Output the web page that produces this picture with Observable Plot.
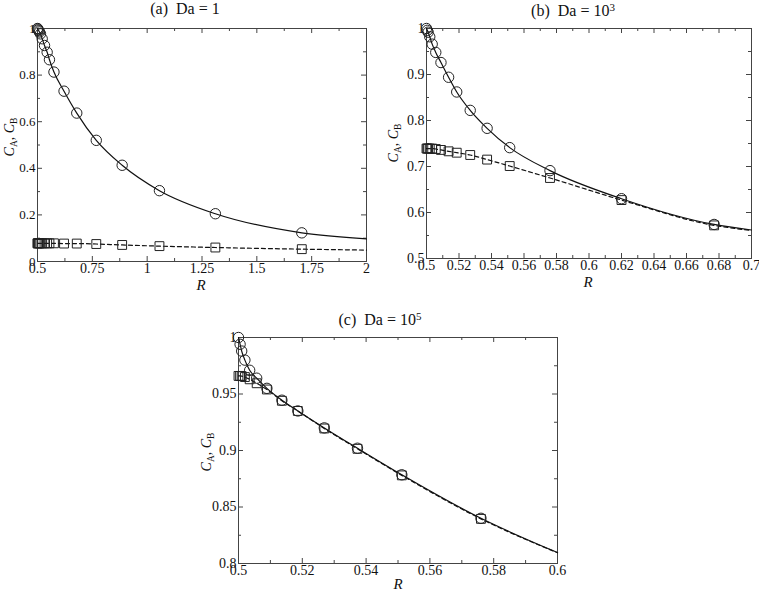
<!DOCTYPE html>
<html><head><meta charset="utf-8">
<script src="https://cdn.jsdelivr.net/npm/d3@7"></script>
<script src="https://cdn.jsdelivr.net/npm/@observablehq/plot@0.6"></script>
<style>
body{margin:0;background:#fff;}
#wrap{position:relative;width:759px;height:592px;overflow:hidden;font-family:"Liberation Serif","DejaVu Serif",serif;color:#111;}
.panel{position:absolute;}
.title{position:absolute;font-size:16px;line-height:16px;transform:translateX(-50%);white-space:nowrap;}
.title sup{font-size:11px;line-height:0;vertical-align:5px;}
</style></head><body><div id="wrap"></div>
<script>
// ---- Panel (a): Da = 1 ----
const aR  = [0.5, 0.501, 0.503, 0.506, 0.509, 0.5136, 0.5214, 0.532, 0.544, 0.5545, 0.575, 0.621, 0.679, 0.768, 0.886, 1.056, 1.311, 1.705];
const aCA = [1.0, 0.998, 0.994, 0.99, 0.985, 0.977, 0.956, 0.927, 0.898, 0.866, 0.813, 0.731, 0.637, 0.52, 0.413, 0.304, 0.205, 0.123];
const aCB = [0.078, 0.078, 0.078, 0.078, 0.078, 0.078, 0.078, 0.078, 0.078, 0.078, 0.078, 0.077, 0.077, 0.075, 0.071, 0.066, 0.060, 0.053];
const aEndR = 2, aEndCA = 0.097, aEndCB = 0.049;
const aXMajor = [0.5, 0.75, 1, 1.25, 1.5, 1.75, 2];
const aXMinor = [0.625, 0.875, 1.125, 1.375, 1.625, 1.875];
const aYMajor = [0, 0.2, 0.4, 0.6, 0.8, 1];
const aYMinor = [0.1, 0.3, 0.5, 0.7, 0.9];

// ---- Panel (b): Da = 10^3 ----
const bR  = [0.5, 0.5005, 0.501, 0.502, 0.5035, 0.5057, 0.5089, 0.5136, 0.5186, 0.5269, 0.5373, 0.5512, 0.576, 0.62, 0.677];
const bCA = [1.0, 0.996, 0.992, 0.982, 0.966, 0.948, 0.926, 0.894, 0.862, 0.822, 0.783, 0.741, 0.691, 0.630, 0.574];
const bCB = [0.739, 0.739, 0.739, 0.739, 0.739, 0.738, 0.736, 0.733, 0.730, 0.725, 0.715, 0.701, 0.675, 0.627, 0.572];
const bEndR = 0.7, bEndCA = 0.562, bEndCB = 0.561;
const bXMajor = [0.5, 0.52, 0.54, 0.56, 0.58, 0.6, 0.62, 0.64, 0.66, 0.68, 0.7];
const bXMinor = [0.51, 0.53, 0.55, 0.57, 0.59, 0.61, 0.63, 0.65, 0.67, 0.69];
const bYMajor = [0.5, 0.6, 0.7, 0.8, 0.9, 1];
const bYMinor = [0.55, 0.65, 0.75, 0.85, 0.95];

// ---- Panel (c): Da = 10^5 ----
const cR  = [0.5, 0.5005, 0.501, 0.502, 0.5035, 0.5057, 0.5089, 0.5136, 0.5186, 0.5269, 0.5373, 0.5512, 0.576];
const cCA = [1.0, 0.994, 0.988, 0.98, 0.971, 0.964, 0.955, 0.9445, 0.935, 0.920, 0.902, 0.8785, 0.840];
const cCB = [0.966, 0.966, 0.9658, 0.965, 0.963, 0.9595, 0.954, 0.944, 0.935, 0.9195, 0.9015, 0.878, 0.8395];
const cEndR = 0.6, cEndCA = 0.8097, cEndCB = 0.8095;
const cXMajor = [0.5, 0.52, 0.54, 0.56, 0.58, 0.6];
const cXMinor = [0.51, 0.53, 0.55, 0.57, 0.59];
const cYMajor = [0.8, 0.85, 0.9, 0.95, 1];
const cYMinor = [0.825, 0.875, 0.925, 0.975];

const wrap = document.getElementById("wrap");

function panel(cfg) {
  const {left, top, width, height, ml, mr, mt, mb, R, CA, CB, endR, endCA, endCB,
         xDomain, yDomain, xMajor, xMinor, yMajor, yMinor, title, titleX, titleY,
         ylx, yly, rx, ry, yTickFont = 14} = cfg;
  const fw = width - ml - mr, fh = height - mt - mb;
  const ptsA = R.map((r, i) => ({R: r, C: CA[i]}));
  const ptsB = R.map((r, i) => ({R: r, C: CB[i]}));
  const lineA = ptsA.concat([{R: endR, C: endCA}]);
  const lineB = ptsB.concat([{R: endR, C: endCB}]);
  const tk = "#444";
  const MAJ = 5, MIN = 3;
  const svg = Plot.plot({
    width, height, marginLeft: ml, marginRight: mr, marginTop: mt, marginBottom: mb,
    x: {domain: xDomain},
    y: {domain: yDomain},
    style: {fontFamily: "'Liberation Serif', 'DejaVu Serif', serif", fontSize: "14px", color: "#111", background: "transparent", overflow: "visible"},
    marks: [
      Plot.frame({stroke: tk, strokeWidth: 1}),
      // inward ticks, bottom & top
      Plot.tickX(xMajor, {x: d => d, insetTop: fh - MAJ, stroke: tk}),
      Plot.tickX(xMinor, {x: d => d, insetTop: fh - MIN, stroke: tk}),
      Plot.tickX(xMajor, {x: d => d, insetBottom: fh - MAJ, stroke: tk}),
      Plot.tickX(xMinor, {x: d => d, insetBottom: fh - MIN, stroke: tk}),
      // inward ticks, left & right
      Plot.tickY(yMajor, {y: d => d, insetRight: fw - MAJ, stroke: tk}),
      Plot.tickY(yMinor, {y: d => d, insetRight: fw - MIN, stroke: tk}),
      Plot.tickY(yMajor, {y: d => d, insetLeft: fw - MAJ, stroke: tk}),
      Plot.tickY(yMinor, {y: d => d, insetLeft: fw - MIN, stroke: tk}),
      Plot.axisX({ticks: xMajor, tickSize: 0, tickPadding: 2, tickFormat: d => String(d), label: null}),
      Plot.axisY({ticks: yMajor, tickSize: 0, tickPadding: 2, tickFormat: d => String(d), label: null, fontSize: yTickFont}),
      Plot.line(lineB, {x: "R", y: "C", curve: "monotone-x", stroke: "#111", strokeWidth: 1.2, strokeDasharray: "4,3"}),
      Plot.line(lineA, {x: "R", y: "C", curve: "monotone-x", stroke: "#111", strokeWidth: 1.2}),
      Plot.dot(ptsA, {x: "R", y: "C", r: 5.2, symbol: "circle", stroke: "#222", fill: "none", strokeWidth: 1}),
      Plot.dot(ptsB, {x: "R", y: "C", r: 5, symbol: "square", stroke: "#222", fill: "none", strokeWidth: 1})
    ]
  });
  const s = d3.select(svg);
  // y label C_A, C_B
  const t = s.append("text")
    .attr("transform", `translate(${ylx},${yly}) rotate(-90)`)
    .attr("text-anchor", "middle").attr("font-size", 14).attr("fill", "#111");
  t.append("tspan").attr("font-style", "italic").text("C");
  t.append("tspan").attr("font-size", 9.5).attr("dy", 3).text("A");
  t.append("tspan").attr("dy", -3).text(", ");
  t.append("tspan").attr("font-style", "italic").text("C");
  t.append("tspan").attr("font-size", 9.5).attr("dy", 3).text("B");
  // x label R
  s.append("text").attr("x", rx).attr("y", ry).attr("text-anchor", "middle")
    .attr("font-size", 15).attr("font-style", "italic").attr("fill", "#111").text("R");
  const div = document.createElement("div");
  div.className = "panel";
  div.style.left = left + "px"; div.style.top = top + "px";
  div.appendChild(svg);
  wrap.appendChild(div);
  const tt = document.createElement("div");
  tt.className = "title";
  tt.style.left = titleX + "px"; tt.style.top = titleY + "px";
  tt.innerHTML = title;
  wrap.appendChild(tt);
}

panel({left: 0, top: 0, width: 380, height: 292, ml: 37, mr: 14, mt: 28, mb: 31,
  R: aR, CA: aCA, CB: aCB, endR: aEndR, endCA: aEndCA, endCB: aEndCB,
  xDomain: [0.5, 2], yDomain: [0, 1], xMajor: aXMajor, xMinor: aXMinor, yMajor: aYMajor, yMinor: aYMinor,
  title: "(a)&nbsp; Da = 1", titleX: 185, titleY: 1, ylx: 14, yly: 137, rx: 201, ry: 290, yTickFont: 13});

panel({left: 380, top: 0, width: 379, height: 292, ml: 46, mr: 8, mt: 28, mb: 34,
  R: bR, CA: bCA, CB: bCB, endR: bEndR, endCA: bEndCA, endCB: bEndCB,
  xDomain: [0.5, 0.7], yDomain: [0.5, 1], xMajor: bXMajor, xMinor: bXMinor, yMajor: bYMajor, yMinor: bYMinor,
  title: "(b)&nbsp; Da = 10<sup>3</sup>", titleX: 573, titleY: 3, ylx: 18, yly: 143, rx: 208, ry: 287});

panel({left: 180, top: 295, width: 420, height: 297, ml: 58, mr: 43, mt: 42, mb: 29,
  R: cR, CA: cCA, CB: cCB, endR: cEndR, endCA: cEndCA, endCB: cEndCB,
  xDomain: [0.5, 0.6], yDomain: [0.8, 1], xMajor: cXMajor, xMinor: cXMinor, yMajor: cYMajor, yMinor: cYMinor,
  title: "(c)&nbsp; Da = 10<sup>5</sup>", titleX: 380, titleY: 312, ylx: 31, yly: 157, rx: 218, ry: 294});
</script></body></html>
